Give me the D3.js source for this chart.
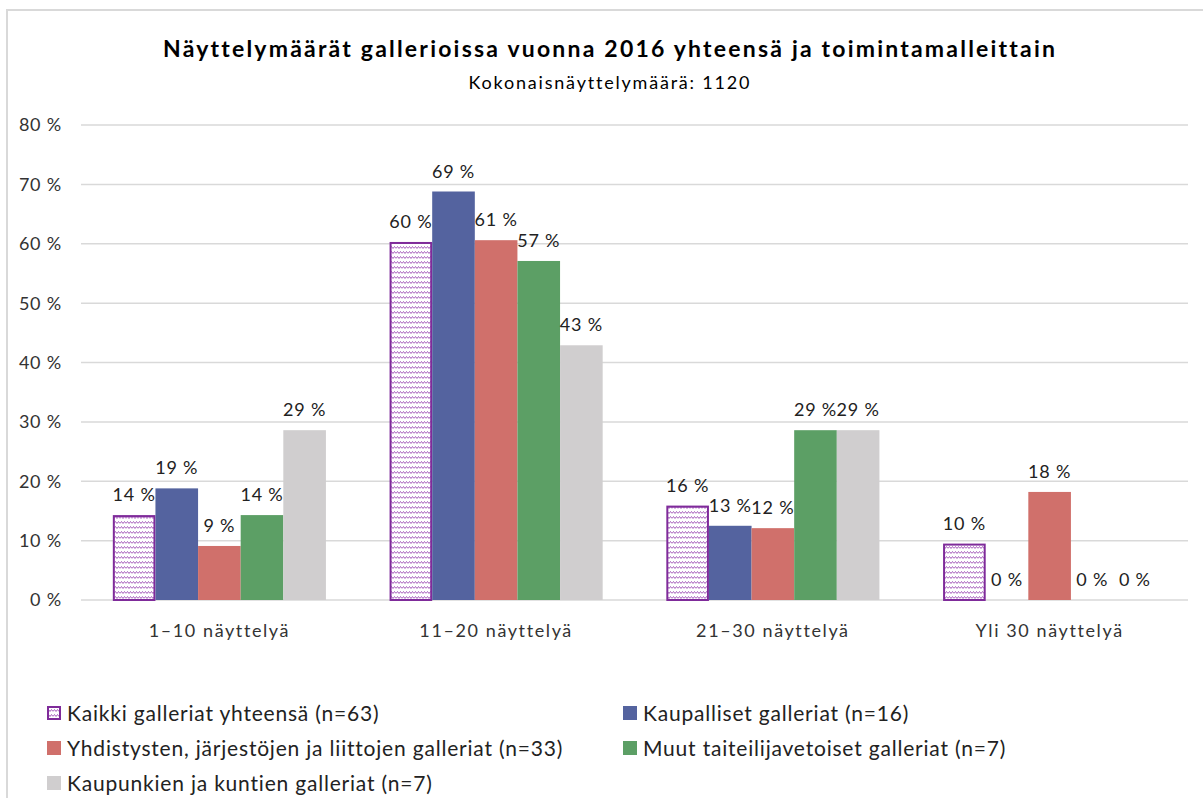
<!DOCTYPE html>
<html>
<head>
<meta charset="utf-8">
<script src="https://cdn.jsdelivr.net/npm/d3@7"></script>
<style>
  body { margin: 0; background: #fff; }
  svg { display: block; font-family: Lato, "Open Sans", sans-serif; font-variant-ligatures: none; }
</style>
</head>
<body>
<div id="app"></div>
<script>
const categories = ['1–10 näyttelyä', '11–20 näyttelyä', '21–30 näyttelyä', 'Yli 30 näyttelyä'];

const seriesNames = [
  'Kaikki galleriat yhteensä  (n=63)',
  'Kaupalliset galleriat (n=16)',
  'Yhdistysten, järjestöjen ja liittojen galleriat (n=33)',
  'Muut taiteilijavetoiset galleriat (n=7)',
  'Kaupunkien ja kuntien galleriat (n=7)'
];

// percent values per series, one per category
const kaikki = [14.3, 60.3, 15.9, 9.5];
const kaupalliset = [18.8, 68.8, 12.5, 0];
const yhdistykset = [9.1, 60.6, 12.1, 18.2];
const muut = [14.3, 57.1, 28.6, 0];
const kunnat = [28.6, 42.9, 28.6, 0];

const yTicks = [0, 10, 20, 30, 40, 50, 60, 70, 80];

const seriesValues = [kaikki, kaupalliset, yhdistykset, muut, kunnat];
const seriesColors = ['url(#zigzag)', '#54639f', '#d0706b', '#5c9f65', '#d0cecf'];

const W = 1203, H = 798;
const svg = d3.select('#app').append('svg')
  .attr('width', W)
  .attr('height', H);

// pattern for the "all galleries" series
const defs = svg.append('defs');
const pat = defs.append('pattern')
  .attr('id', 'zigzag')
  .attr('patternUnits', 'userSpaceOnUse')
  .attr('width', 6)
  .attr('height', 5);
pat.append('rect').attr('width', 6).attr('height', 5).attr('fill', '#fff');
pat.append('path')
  .attr('d', 'M0,3.5 L1.5,1.5 L3,3.5 L4.5,1.5 L6,3.5')
  .attr('fill', 'none')
  .attr('stroke', '#a861bd')
  .attr('stroke-width', 1);

// chart frame
svg.append('path')
  .attr('d', 'M7,' + H + ' V10 H' + W)
  .attr('fill', 'none')
  .attr('stroke', '#d9d9d9')
  .attr('stroke-width', 2);

// titles
svg.append('text')
  .attr('x', 609)
  .attr('y', 57)
  .attr('text-anchor', 'middle')
  .attr('textLength', 892)
  .attr('lengthAdjust', 'spacing')
  .style('font-weight', 'bold')
  .style('font-size', '23px')
  .attr('fill', '#000')
  .text('Näyttelymäärät  gallerioissa vuonna 2016 yhteensä ja toimintamalleittain');

svg.append('text')
  .attr('x', 609)
  .attr('y', 89)
  .attr('text-anchor', 'middle')
  .attr('textLength', 281)
  .attr('lengthAdjust', 'spacing')
  .style('font-size', '18px')
  .attr('fill', '#000')
  .text('Kokonaisnäyttelymäärä:  1120');

/////// SCALES ///////
const x0 = d3.scaleBand()
  .domain(categories)
  .range([81, 1188])
  .paddingInner(0.23)
  .paddingOuter(0.115);

const x1 = d3.scaleBand()
  .domain(d3.range(seriesNames.length))
  .range([0, x0.bandwidth()]);

const y = d3.scaleLinear()
  .domain([0, 80])
  .range([600, 125]);

// gridlines
svg.append('g')
  .selectAll('line')
  .data(yTicks)
  .join('line')
  .attr('x1', 81)
  .attr('x2', 1188)
  .attr('y1', d => y(d))
  .attr('y2', d => y(d))
  .attr('stroke', '#d9d9d9')
  .attr('stroke-width', 1.5);

// y tick labels
svg.append('g')
  .selectAll('text')
  .data(yTicks)
  .join('text')
  .attr('x', 62)
  .attr('y', d => y(d))
  .attr('dy', '0.36em')
  .attr('text-anchor', 'end')
  .style('font-size', '18px')
  .style('letter-spacing', '0.8px')
  .attr('fill', '#333')
  .text(d => d + ' %');

// x category labels
svg.append('g')
  .selectAll('text')
  .data(categories)
  .join('text')
  .attr('x', d => x0(d) + x0.bandwidth() / 2)
  .attr('y', 637)
  .attr('text-anchor', 'middle')
  .style('font-size', '18px')
  .style('letter-spacing', '1.6px')
  .attr('fill', '#333')
  .text(d => d);

/////// BARS ///////
const flat = [];
categories.forEach((c, ci) => {
  seriesValues.forEach((vals, si) => {
    flat.push({ cat: c, s: si, v: vals[ci] });
  });
});

svg.append('g')
  .selectAll('rect')
  .data(flat.filter(d => d.v > 0))
  .join('rect')
  .attr('x', d => x0(d.cat) + x1(d.s) + (d.s === 0 ? 1 : 0))
  .attr('y', d => y(d.v) + (d.s === 0 ? 1 : 0))
  .attr('width', d => x1.bandwidth() - (d.s === 0 ? 2 : 0))
  .attr('height', d => y(0) - y(d.v) - (d.s === 0 ? 1 : 0))
  .attr('fill', d => seriesColors[d.s])
  .attr('stroke', d => d.s === 0 ? '#7f2b9a' : 'none')
  .attr('stroke-width', 2);

// value labels
svg.append('g')
  .selectAll('text')
  .data(flat)
  .join('text')
  .attr('x', d => x0(d.cat) + x1(d.s) + x1.bandwidth() / 2)
  .attr('y', d => y(d.v) - 14)
  .attr('text-anchor', 'middle')
  .style('font-size', '18px')
  .style('letter-spacing', '0.8px')
  .attr('fill', '#222')
  .text(d => Math.round(d.v) + ' %');

/////// LEGEND ///////
const legendPos = [[47, 713], [623, 713], [47, 748], [623, 748], [47, 783]];

const legend = svg.append('g')
  .selectAll('g')
  .data(seriesNames)
  .join('g')
  .attr('transform', (d, i) => 'translate(' + legendPos[i][0] + ',' + legendPos[i][1] + ')');

legend.append('rect')
  .attr('x', (d, i) => i === 0 ? 1 : 0)
  .attr('y', (d, i) => i === 0 ? -6 : -7)
  .attr('width', (d, i) => i === 0 ? 12 : 14)
  .attr('height', (d, i) => i === 0 ? 12 : 14)
  .attr('fill', (d, i) => seriesColors[i])
  .attr('stroke', (d, i) => i === 0 ? '#7f2b9a' : 'none')
  .attr('stroke-width', 2);

legend.append('text')
  .attr('x', 20)
  .attr('dy', '0.36em')
  .style('font-size', '21px')
  .style('letter-spacing', '0.8px')
  .attr('fill', '#222')
  .text(d => d);
</script>
</body>
</html>
